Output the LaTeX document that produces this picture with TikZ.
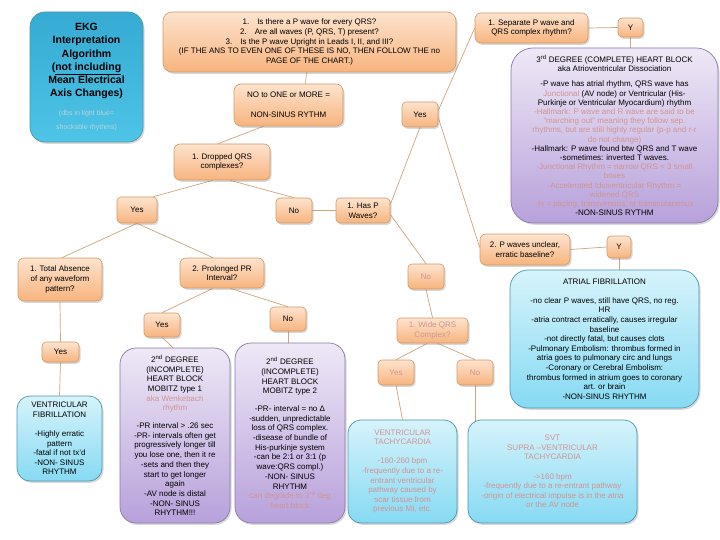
\documentclass[tikz,border=0pt]{standalone}
\usepackage{fontspec}
\setmainfont{Liberation Sans}
\usetikzlibrary{shadows,calc}
\pgfdeclarelayer{bg}
\pgfsetlayers{bg,main}
\definecolor{otop}{HTML}{FDE3CE}
\definecolor{obot}{HTML}{F7B47E}
\definecolor{oborder}{HTML}{D39966}
\definecolor{ptop}{HTML}{EEE8F6}
\definecolor{pbot}{HTML}{B7A1DB}
\definecolor{pborder}{HTML}{8A7AAA}
\definecolor{btop}{HTML}{D6F3FB}
\definecolor{bbot}{HTML}{86DAF3}
\definecolor{bborder}{HTML}{4F97B0}
\definecolor{ekgtop}{HTML}{35AAD3}
\definecolor{ekgbot}{HTML}{4EC4E7}
\definecolor{linkc}{HTML}{CDA57A}
\definecolor{pinkt}{HTML}{D09494}
\definecolor{ekgsub}{HTML}{B9D3DC}
\newcommand{\pk}[1]{\textcolor{pinkt}{#1}}
\begin{document}
\begin{tikzpicture}[x=1pt,y=-1pt,
  sz/.style 2 args={minimum width=#1pt, minimum height=#2pt},
  box/.style={align=center, inner sep=1pt, font=\fontsize{8}{9.6}\selectfont,
    drop shadow={opacity=0.3, shadow xshift=1.5pt, shadow yshift=-1.8pt}},
  obox/.style={box, draw=oborder, line width=0.6pt, top color=otop, bottom color=obot, rounded corners=4pt},
  pbox/.style={box, draw=pborder, line width=0.7pt, top color=ptop, bottom color=pbot, rounded corners=16pt},
  bbox/.style={box, draw=bborder, line width=0.7pt, top color=btop, bottom color=bbot, rounded corners=13pt},
  link/.style={draw=linkc, line width=0.7pt}]
\useasboundingbox (0,0) rectangle (720,540);

% EKG title
\node[box, draw=bborder, line width=0.7pt, top color=ekgtop, bottom color=ekgbot, rounded corners=15pt, sz={113}{130},
  font=\fontsize{10.5}{13.2}\selectfont\bfseries] (ekg) at (86.5,77)
  {EKG\\Interpretation\\Algorithm\\(\underline{not including}\\Mean Electrical\\Axis Changes)\\[6pt]
   \textcolor{ekgsub}{\fontsize{7}{8}\selectfont\mdseries (dbs in light blue=}\\
   \textcolor{ekgsub}{\fontsize{7}{8}\selectfont\mdseries shockable rhythms)}};

% top question box
\node[obox, rounded corners=9pt, sz={293}{60}] (top) at (309.5,42)
  {1.\quad Is there a P wave for every QRS?\\
   2.\quad Are all waves (P, QRS, T) present?\\
   3.\quad Is the P wave Upright in Leads I, II, and III?\\
   (IF THE ANS TO EVEN ONE OF THESE IS NO, THEN FOLLOW THE no\\
   PAGE OF THE CHART.)};

\node[obox, rounded corners=6pt, sz={113}{30}] (sep) at (531.5,28) {1. Separate P wave and\\QRS complex rhythm?};
\node[obox, sz={25}{19}] (y1) at (630.5,27.5) {Y};

\node[pbox, rounded corners=22pt, sz={207}{175}, font=\fontsize{8}{9.2}\selectfont] (third) at (614.5,135.5)
  {3\textsuperscript{rd} DEGREE (COMPLETE) HEART BLOCK\\aka Atrioventricular Dissociation\\[6pt]
   -P wave has atrial rhythm, QRS wave has\\
   \pk{Junctional} (AV node) or Ventricular (His-\\
   Purkinje or Ventricular Myocardium) rhythm\\
   \pk{-Hallmark: P wave and R wave are said to be}\\
   \pk{``marching out'' meaning they follow sep.}\\
   \pk{rhythms, but are still highly regular (p-p and r-r}\\
   \pk{do not change)}\\
   -Hallmark: P wave found btw QRS and T wave\\
   -sometimes: inverted T waves.\\
   \pk{-Junctional Rhythm = narrow QRS < 3 small}\\
   \pk{boxes}\\
   \pk{-Accelerated Idioventricular Rhythm =}\\
   \pk{widened QRS}\\
   \pk{-tx = pacing, transvenous, or transcutaneous}\\
   -NON-SINUS RYTHM};

\node[obox, rounded corners=7pt, sz={109}{42}] (nosinus) at (288.5,105) {NO to ONE or MORE =\\[10pt]NON-SINUS RYTHM};
\node[obox, sz={36}{25}] (yes1) at (420,114.5) {Yes};
\node[obox, rounded corners=6pt, sz={96}{36}] (dropped) at (222,162) {1. Dropped QRS\\complexes?};
\node[obox, sz={36}{25}] (no1) at (294,210.5) {No};
\node[obox, sz={54}{25}] (hasp) at (363,210.5) {1. Has P\\Waves?};
\node[obox, sz={40}{26}] (yes2) at (137,210) {Yes};

\node[obox, rounded corners=6pt, sz={84}{43}] (total) at (60,279.5) {1. Total Absence\\of any waveform\\pattern?};
\node[obox, rounded corners=6pt, sz={84}{30}] (prolonged) at (222,273) {2. Prolonged PR\\Interval?};
\node[obox, sz={36}{24}] (yes3) at (162,325) {Yes};
\node[obox, sz={36}{24}] (no2) at (288,319) {No};
\node[obox, sz={37}{20}] (yes5) at (60.5,352) {Yes};

\node[obox, sz={36}{25}] (no3) at (426,276.5) {\pk{No}};
\node[obox, sz={71}{25}] (wide) at (432.5,330.5) {\pk{1. Wide QRS}\\\pk{Complex?}};
\node[obox, sz={36}{25}] (yes4) at (396,372.5) {\pk{Yes}};
\node[obox, sz={36}{25}] (no4) at (475,372.5) {\pk{No}};

\node[obox, rounded corners=6pt, sz={90}{31}] (punclear) at (525,249.5) {2. P waves unclear,\\erratic baseline?};
\node[obox, sz={24}{22}] (y2) at (619,247) {Y};

\node[bbox, rounded corners=18pt, sz={189}{138}] (af) at (604.5,339)
  {ATRIAL FIBRILLATION\\[9.6pt]
   -no clear P waves, still have QRS, no reg.\\HR\\
   -atria contract erratically, causes irregular\\baseline\\
   -not directly fatal, but causes clots\\
   -Pulmonary Embolism: thrombus formed in\\
   atria goes to pulmonary circ and lungs\\
   -Coronary or Cerebral Embolism:\\
   thrombus formed in atrium goes to coronary\\
   art. or brain\\
   -NON-SINUS RHYTHM};

\node[bbox, sz={85}{85}] (vf) at (59.5,438.5)
  {VENTRICULAR\\FIBRILLATION\\[9.6pt]-Highly erratic\\pattern\\-fatal if not tx'd\\-NON- SINUS\\RHYTHM};

\node[pbox, sz={110}{175}, font=\fontsize{8}{9.7}\selectfont] (deg1) at (175,435.5)
  {2\textsuperscript{nd} DEGREE\\(INCOMPLETE)\\HEART BLOCK\\MOBITZ type 1\\\pk{aka Wenkebach}\\\pk{rhythm}\\[8pt]
   -PR interval > .26 sec\\-PR- intervals often get\\progressively longer till\\you lose one, then it re\\-sets and then they\\start to get longer\\again\\-AV node is distal\\-NON- SINUS\\RHYTHM!!!};

\node[pbox, sz={110}{180}, font=\fontsize{8}{9.7}\selectfont] (deg2) at (290,433)
  {2\textsuperscript{nd} DEGREE\\(INCOMPLETE)\\HEART BLOCK\\MOBITZ type 2\\[8pt]
   -PR- interval = no Δ\\-sudden, unpredictable\\loss of QRS complex.\\-disease of bundle of\\His-purkinje system\\-can be 2:1 or 3:1 (p\\wave:QRS compl.)\\-NON- SINUS\\RHYTHM\\
   \pk{-can degrade to 3\textsuperscript{rd} deg.}\\\pk{heart block}};

\node[bbox, sz={109}{103}] (vt) at (402.5,471.5)
  {\pk{VENTRICULAR}\\\pk{TACHYCARDIA}\\[9.6pt]\pk{-160-260 bpm}\\\pk{-frequently due to a re-}\\\pk{entrant ventricular}\\\pk{pathway caused by}\\\pk{scar tissue from}\\\pk{previous MI, etc.}};

\node[bbox, sz={169}{103}] (svt) at (552.5,471.5)
  {\pk{SVT}\\\pk{SUPRA --VENTRICULAR}\\\pk{TACHYCARDIA}\\[9.6pt]\pk{->160 bpm}\\\pk{-frequently due to a re-entrant pathway}\\\pk{-origin of electrical impulse is in the atria}\\\pk{or the AV node}};

\begin{pgfonlayer}{bg}
\fill[white] (0,0) rectangle (720,540);
\draw[link] ([xshift=-3pt]top.south) -- ([xshift=17pt]nosinus.north);
\draw[link] ([yshift=4pt]yes1.east) -- (sep.west);
\draw[link] (sep.east) -- (y1.west);
\draw[link] (y1.south) -- (y1.south |- third.north);
\draw[link] ([yshift=-3pt]yes1.east) -- ([yshift=2pt]punclear.west);
\draw[link] ([xshift=-25pt]nosinus.south) -- ([xshift=-4pt]dropped.north);
\draw[link] ([xshift=-9pt]dropped.south) -- ([xshift=-4pt]yes2.north east);
\draw[link] ([xshift=8pt]dropped.south) -- (no1.north);
\draw[link] (no1.east) -- (hasp.west);
\draw[link] ([yshift=6pt]hasp.east) -- (yes1.south);
\draw[link] ([yshift=-4pt]hasp.east) -- (no3.north);
\draw[link] (yes2.south) -- ([xshift=2pt]total.north);
\draw[link] (yes2.south) -- ([xshift=-9pt]prolonged.north);
\draw[link] (total.south) -- (yes5.north);
\draw[link] (yes5.south) -- (vf.north);
\draw[link] ([xshift=-9pt]prolonged.south) -- (yes3.north);
\draw[link] ([xshift=8pt]prolonged.south) -- (no2.north);
\draw[link] (yes3.south) -- ([xshift=-2pt]deg1.north);
\draw[link] (no2.south) -- (no2.south |- deg2.north);
\draw[link] (no3.south) -- (wide.north);
\draw[link] ([xshift=-5pt]wide.south) -- (yes4.north);
\draw[link] ([xshift=5pt]wide.south) -- (no4.north);
\draw[link] (yes4.south) -- (vt.north);
\draw[link] (no4.south) -- ([yshift=-4pt]no4.south |- svt.north);
\draw[link] (punclear.east) -- (y2.west);
\draw[link] (y2.south) -- (y2.south |- af.north);
\end{pgfonlayer}
\end{tikzpicture}
\end{document}
